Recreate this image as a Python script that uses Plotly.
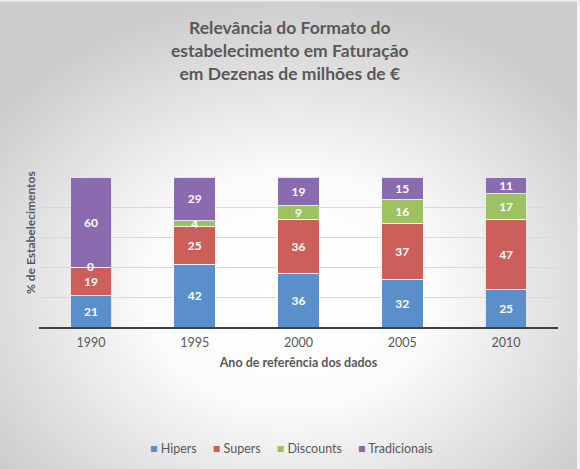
import base64
import plotly.graph_objects as go

years = ["1990", "1995", "2000", "2005", "2010"]
hipers = [21, 42, 36, 32, 25]
supers = [19, 25, 36, 37, 47]
discounts = [0, 4, 9, 16, 17]
tradicionais = [60, 29, 19, 15, 11]
series_names = ["Hipers", "Supers", "Discounts", "Tradicionais"]
colors = ["#5B8FCB", "#CC5F5A", "#9DC262", "#8A6BB0"]

W, H = 580, 469
L, R, T, B = 39, 22, 177, 142
pw, ph = W - L - R, H - T - B

svg = (
    '<svg xmlns="http://www.w3.org/2000/svg" width="580" height="469" viewBox="0 0 580 469" preserveAspectRatio="none">'
    '<defs><radialGradient id="g" cx="0.5" cy="0.62" r="0.62" fx="0.5" fy="0.62">'
    '<stop offset="0" stop-color="#ffffff"/><stop offset="0.4" stop-color="#fbfbfb"/>'
    '<stop offset="1" stop-color="#cdcdcd"/></radialGradient></defs>'
    '<rect x="0" y="0" width="580" height="469" fill="url(#g)"/>'
    '<rect x="577" y="0" width="3" height="469" fill="#f4f4f4"/>'
    '<rect x="0" y="0" width="580" height="1.5" fill="#f0f0f0"/>'
    '</svg>'
)
src = "data:image/svg+xml;base64," + base64.b64encode(svg.encode()).decode()

all_vals = [hipers, supers, discounts, tradicionais]
fig = go.Figure()
for name, vals, col in zip(series_names, all_vals, colors):
    fig.add_trace(go.Bar(
        x=years, y=vals, name=name, showlegend=False,
        marker=dict(color=col, line=dict(color="rgba(255,255,255,0.8)", width=1)),
        text=[str(v) if v > 0 else "" for v in vals], textposition="inside",
        insidetextanchor="middle", textangle=0,
        textfont=dict(family="Lato", size=12, color="white", weight="bold"),
        constraintext="none", cliponaxis=False,
    ))

# labels for zero-height segments
annotations = []
for i, yr in enumerate(years):
    cum = 0
    for vals in all_vals:
        if vals[i] == 0:
            annotations.append(dict(
                x=i, y=cum, xref="x", yref="y", text=str(vals[i]), showarrow=False,
                yshift=1, font=dict(family="Lato", size=12, color="white", weight="bold"),
            ))
        cum += vals[i]

def px_x(x):
    return (x - L) / pw

def px_y(y):
    return 1 - (y - T) / ph

annotations.append(dict(
    text="Relevância do Formato do<br>estabelecimento em Faturação<br>em Dezenas de milhões de €",
    xref="paper", yref="paper", x=px_x(290), y=px_y(15),
    xanchor="center", yanchor="top", showarrow=False, align="center",
    font=dict(family="Lato", size=17.5, color="#595959", weight="bold"),
))

annotations.append(dict(
    text="% de Estabelecimentos", xref="paper", yref="paper",
    x=px_x(30), y=px_y(233), xanchor="center", yanchor="middle", textangle=-90,
    showarrow=False, font=dict(family="Lato", size=12, color="#595959", weight="bold"),
))

sq = "■"
legend_txt = "&nbsp;&nbsp;&nbsp;&nbsp;&nbsp;".join(
    f"<span style='color:{c}'>{sq}</span> {n}" for n, c in zip(series_names, colors)
)
annotations.append(dict(
    text=legend_txt, xref="paper", yref="paper",
    x=px_x(291), y=px_y(448), xanchor="center", yanchor="middle",
    showarrow=False, font=dict(family="Lato", size=12.5, color="#595959"),
))

fig.update_layout(
    width=W, height=H,
    barmode="stack", bargap=0.6,
    margin=dict(l=L, r=R, t=T, b=B, autoexpand=False),
    paper_bgcolor="#d8d8d8", plot_bgcolor="rgba(0,0,0,0)",
    font=dict(family="Lato", color="#595959"),
    xaxis=dict(
        type="category",
        showgrid=False, showline=True, linecolor="#404040", linewidth=2,
        tickfont=dict(size=12.5, color="#595959"), ticks="", ticklabelstandoff=3,
        title=dict(text="Ano de referência dos dados", standoff=9,
                   font=dict(size=12.5, color="#595959", weight="bold")),
    ),
    yaxis=dict(
        range=[0, 100], dtick=20, showticklabels=False, showgrid=True,
        gridcolor="#d9d9d9", gridwidth=1, zeroline=False,
    ),
    annotations=annotations,
    images=[dict(
        source=src, xref="paper", yref="paper",
        x=-L / pw, y=1 + T / ph, sizex=W / pw, sizey=H / ph,
        xanchor="left", yanchor="top", sizing="stretch", layer="below",
    )],
)

fig.write_html("out.html")
